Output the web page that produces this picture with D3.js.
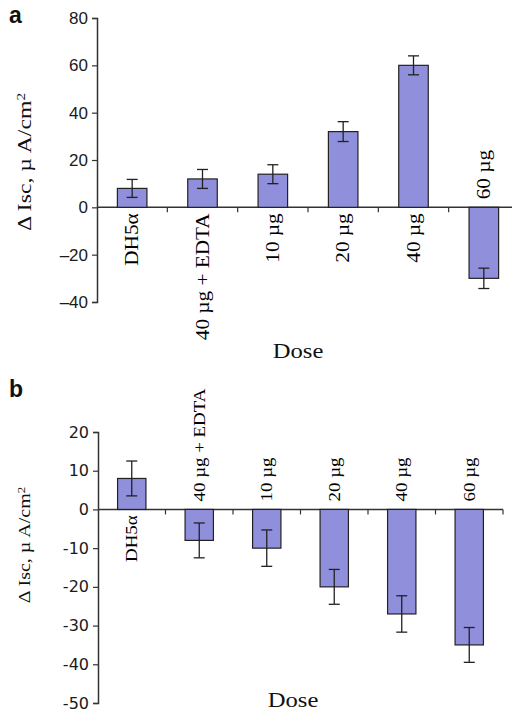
<!DOCTYPE html>
<html>
<head>
<meta charset="utf-8">
<script src="https://cdn.jsdelivr.net/npm/d3@7"></script>
<style>
  body { margin: 0; background: #fff; }
</style>
</head>
<body>
<div id="chart"></div>
<script>
// doses on the x axis (same for both panels)
var doses = ["DH5α", "40 µg + EDTA", "10 µg", "20 µg", "40 µg", "60 µg"];

// panel a
var meanA = [8, 12, 14, 32, 60, -30];
var errA = [3.8, 4, 4, 4.2, 4, 4.3];
var ticksA = [80, 60, 40, 20, 0, -20, -40];

// panel b
var meanB = [8, -8, -10, -20, -27, -35];
var errB = [4.5, 4.5, 4.7, 4.5, 4.7, 4.5];
var ticksB = [20, 10, 0, -10, -20, -30, -40, -50];

var svg = d3.select('#chart')
  .append('svg')
    .attr('width', 512)
    .attr('height', 714)
    .style('font-family', '"Liberation Serif", serif');

function drawPanel(opt) {
  var g = svg.append('g');
  var data = doses.map(function(d, i) { return {dose: d, v: opt.mean[i], e: opt.err[i]}; });

  var x = d3.scaleBand()
    .domain(doses)
    .range([opt.left, opt.right])
    .paddingInner(0.58)
    .paddingOuter(0.29);

  var y = d3.scaleLinear()
    .domain([opt.ticks[opt.ticks.length - 1], opt.ticks[0]])
    .range([opt.bottom, opt.top]);

  var step = x.step();
  var y0 = y(0);

  // y axis
  var yAxis = g.append('g')
    .attr('transform', 'translate(' + opt.left + ',0)')
    .call(d3.axisLeft(y).tickValues(opt.ticks).tickSize(5).tickPadding(4).tickFormat(opt.fmt));
  yAxis.select('.domain').attr('stroke', '#333').attr('stroke-width', 1.5);
  yAxis.selectAll('.tick line').attr('stroke', '#333').attr('stroke-width', 1.2);
  yAxis.selectAll('.tick text')
    .attr('fill', '#1a1a1a')
    .style('font-family', opt.tickFont)
    .style('font-size', opt.tickSize + 'px');

  // x axis line through zero with ticks between categories
  g.append('line')
    .attr('x1', opt.left).attr('x2', opt.right)
    .attr('y1', y0).attr('y2', y0)
    .attr('stroke', '#333').attr('stroke-width', 1.5);

  g.selectAll('.xtick')
    .data(doses)
    .enter()
    .append('line')
      .attr('x1', function(d) { return x(d) + x.bandwidth() + (step - x.bandwidth()) / 2; })
      .attr('x2', function(d) { return x(d) + x.bandwidth() + (step - x.bandwidth()) / 2; })
      .attr('y1', y0).attr('y2', y0 + 5)
      .attr('stroke', '#333').attr('stroke-width', 1.2);

  // bars
  g.selectAll('.bar')
    .data(data)
    .enter()
    .append('rect')
      .attr('x', function(d) { return x(d.dose); })
      .attr('y', function(d) { return y(Math.max(0, d.v)); })
      .attr('width', x.bandwidth())
      .attr('height', function(d) { return Math.abs(y(d.v) - y0); })
      .attr('fill', '#8f8fdc')
      .attr('stroke', '#222')
      .attr('stroke-width', 1.2);

  // error bars
  var eb = g.selectAll('.err')
    .data(data)
    .enter()
    .append('g')
      .attr('transform', function(d) { return 'translate(' + (x(d.dose) + x.bandwidth() / 2) + ',0)'; });
  eb.append('line')
    .attr('y1', function(d) { return y(d.v - d.e); })
    .attr('y2', function(d) { return y(d.v + d.e); })
    .attr('stroke', '#222').attr('stroke-width', 1.3);
  eb.selectAll('.cap')
    .data(function(d) { return [d.v - d.e, d.v + d.e]; })
    .enter()
    .append('line')
      .attr('x1', -5.5).attr('x2', 5.5)
      .attr('y1', function(v) { return y(v); })
      .attr('y2', function(v) { return y(v); })
      .attr('stroke', '#222').attr('stroke-width', 1.3);

  // category labels, rotated, on the opposite side of the bar
  g.selectAll('.cat')
    .data(data)
    .enter()
    .append('text')
      .attr('transform', function(d) {
        var cx = x(d.dose) + x.bandwidth() / 2;
        var ty = d.v >= 0 ? y0 + 6 : y0 - 8;
        return 'translate(' + cx + ',' + ty + ') rotate(-90) scale(1.18,1)';
      })
      .attr('dy', '0.35em')
      .style('text-anchor', function(d) { return d.v >= 0 ? 'end' : 'start'; })
      .style('font-size', opt.catSize + 'px')
      .attr('fill', '#000')
      .text(function(d) { return d.dose; });

  // y label
  var yl = g.append('text')
    .attr('transform', 'translate(' + opt.ylabX + ',' + opt.ylabY + ') rotate(-90) scale(1.25,1)')
    .style('text-anchor', 'middle')
    .style('font-size', opt.ylabSize + 'px')
    .attr('fill', '#111');
  yl.append('tspan').text('Δ Isc, µ A/cm');
  yl.append('tspan').attr('dy', '-0.5em').style('font-size', '0.65em').text('2');

  // x label
  g.append('text')
    .attr('transform', 'translate(' + opt.doseX + ',' + opt.doseY + ') scale(1.12,1)')
    .style('text-anchor', 'middle')
    .style('font-size', '22px')
    .attr('fill', '#111')
    .text('Dose');

  // panel letter
  g.append('text')
    .attr('x', opt.letterX).attr('y', opt.letterY)
    .style('font-family', '"Liberation Sans", Arial, sans-serif')
    .style('font-weight', 'bold')
    .style('font-size', '23px')
    .attr('fill', '#111')
    .text(opt.letter);
}

drawPanel({
  mean: meanA, err: errA, ticks: ticksA,
  left: 97, right: 519, top: 18, bottom: 302,
  fmt: function(d) { return d < 0 ? '\u2013' + (-d) : d; },
  tickFont: '"Liberation Sans", Arial, sans-serif', tickSize: 17,
  catSize: 18, ylabX: 31, ylabY: 162, ylabSize: 19,
  doseX: 298, doseY: 358,
  letter: 'a', letterX: 9, letterY: 23
});

drawPanel({
  mean: meanB, err: errB, ticks: ticksB,
  left: 98, right: 503, top: 432, bottom: 703,
  fmt: function(d) { return d < 0 ? '-' + (-d) : d; },
  tickFont: '"DejaVu Sans", Verdana, sans-serif', tickSize: 16,
  catSize: 16, ylabX: 30, ylabY: 545, ylabSize: 16,
  doseX: 293, doseY: 707,
  letter: 'b', letterX: 9, letterY: 397
});
</script>
</body>
</html>
